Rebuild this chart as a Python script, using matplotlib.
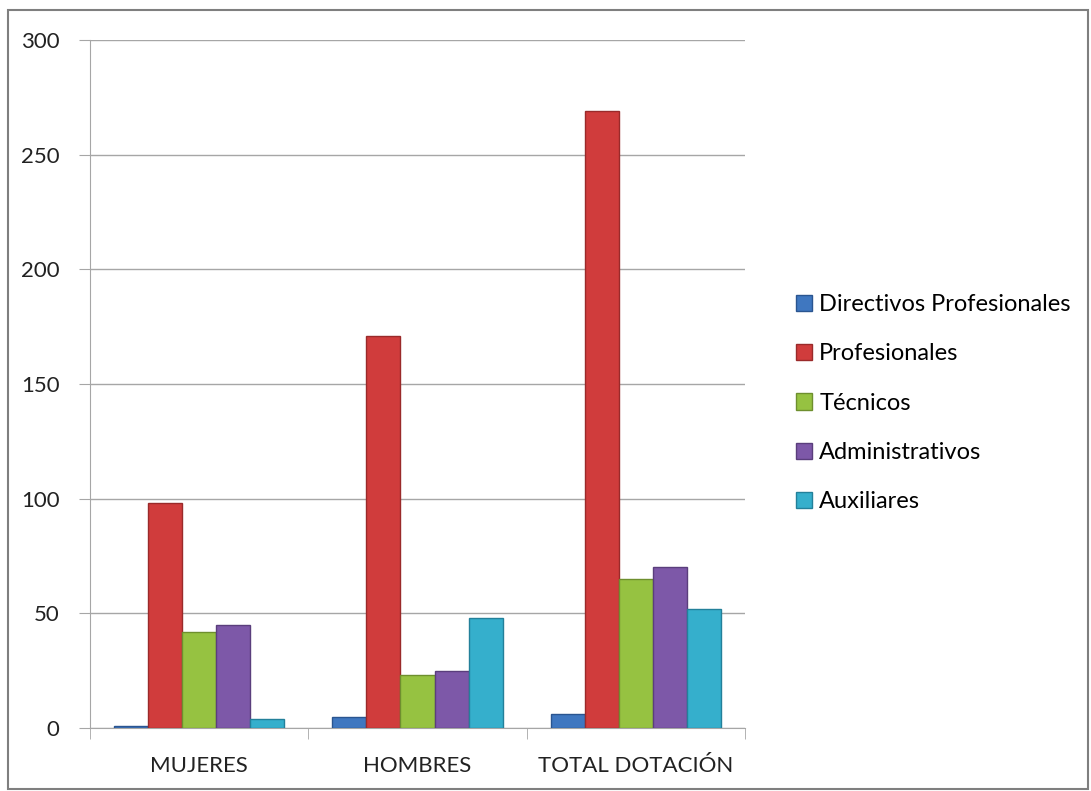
import numpy as np
import matplotlib
matplotlib.use('Agg')
from matplotlib import pyplot as plt
from matplotlib.patches import Rectangle

plt.rcParams['font.family'] = ['Lato', 'DejaVu Sans']

categories = ['MUJERES', 'HOMBRES', 'TOTAL DOTACIÓN']
series = ['Directivos Profesionales', 'Profesionales', 'Técnicos',
          'Administrativos', 'Auxiliares']
directivos = [1, 5, 6]
profesionales = [98, 171, 269]
tecnicos = [42, 23, 65]
administrativos = [45, 25, 70]
auxiliares = [4, 48, 52]
values = [directivos, profesionales, tecnicos, administrativos, auxiliares]

colors = ['#3F77C0', '#D03C3C', '#96C241', '#7D58A8', '#35AFCC']
edges = ['#2A5590', '#9A2A2A', '#6E8F2E', '#5A3E7C', '#23809A']

fig = plt.figure(figsize=(10.91, 7.91), dpi=100)
ax = fig.add_axes([90 / 1091, 63 / 791, 655 / 1091, 688 / 791])

x = np.arange(len(categories))
w = 0.156
for i, (name, vals) in enumerate(zip(series, values)):
    off = (i - 2) * w
    ax.bar(x + off, vals, width=w, color=colors[i], edgecolor=edges[i],
           linewidth=1.0, label=name, zorder=3)

ax.set_xlim(-0.5, 2.5)
ax.set_ylim(0, 300)
ax.set_yticks(range(0, 301, 50))
ax.grid(axis='y', color='#A6A6A6', linewidth=1.0, zorder=0)
ax.set_xticks(x)
ax.set_xticklabels(categories)
ax.set_xticks([-0.5, 0.5, 1.5, 2.5], minor=True)
ax.tick_params(axis='x', which='major', length=0, pad=20, labelsize=16,
               labelcolor='#222222')
ax.tick_params(axis='x', which='minor', length=8, color='#A6A6A6')
ax.tick_params(axis='y', length=8, color='#A6A6A6', labelsize=16,
               labelcolor='#222222', pad=14)
for s in ['top', 'right']:
    ax.spines[s].set_visible(False)
for s in ['left', 'bottom']:
    ax.spines[s].set_color('#A6A6A6')

leg = ax.legend(loc='center left', bbox_to_anchor=(1.045, 0.472), frameon=False,
                fontsize=17, handlelength=0.7, handleheight=0.7,
                handletextpad=0.3, labelspacing=1.2)

fig.patches.append(Rectangle((8 / 1091, 2 / 791), 1080 / 1091, 779 / 791,
                             transform=fig.transFigure, fill=False,
                             edgecolor='#7F7F7F', linewidth=1.5))

fig.savefig('out.png', dpi=100)
